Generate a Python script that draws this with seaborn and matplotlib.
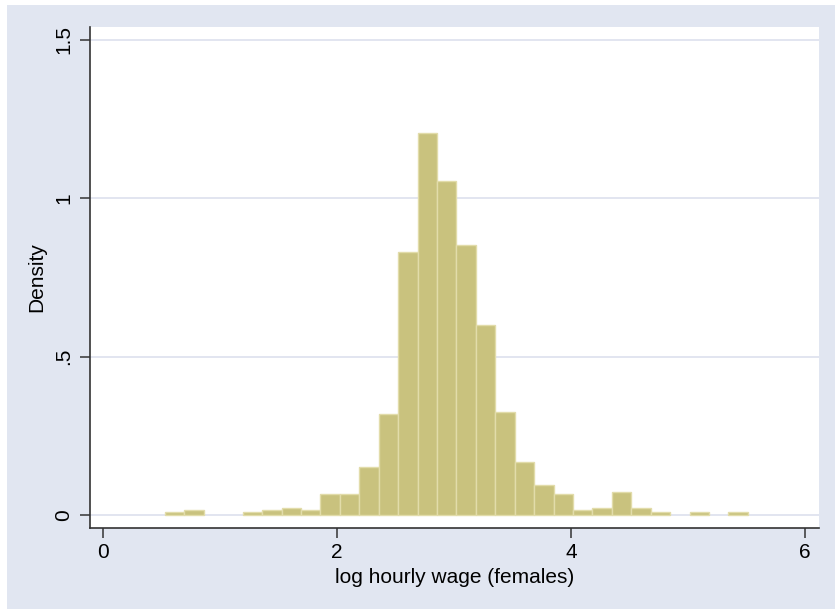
import numpy as np
import pandas as pd
import matplotlib
matplotlib.use("Agg")
import matplotlib.pyplot as plt
import seaborn as sns
from matplotlib.patches import Rectangle

# ---- data ----
bin_start = 0.528
bin_width = 0.1661
density = [0.008, 0.015, 0.0, 0.0, 0.008, 0.015, 0.022, 0.015, 0.065, 0.065,
           0.153, 0.319, 0.831, 1.207, 1.056, 0.854, 0.600, 0.326, 0.166, 0.094,
           0.065, 0.015, 0.022, 0.073, 0.022, 0.008, 0.0, 0.008, 0.0, 0.008]
x_ticks = [0, 2, 4, 6]
x_tick_labels = ["0", "2", "4", "6"]
y_ticks = [0, 0.5, 1, 1.5]
y_tick_labels = ["0", ".5", "1", "1.5"]
x_label = "log hourly wage (females)"
y_label = "Density"

n_bins = len(density)
edges = [float(bin_start + bin_width * i) for i in range(n_bins + 1)]
centers = [(edges[i] + edges[i + 1]) / 2 for i in range(n_bins)]
df = pd.DataFrame({"wage": centers, "density": density})

sns.set_theme(style="white")
plt.rcParams["font.family"] = ["Liberation Sans", "DejaVu Sans"]

W, H = 835, 609
fig = plt.figure(figsize=(W / 100, H / 100), dpi=100, facecolor="white")
# Stata-like graph region
fig.patches.append(Rectangle((7 / W, 0), 1 - 7 / W, (H - 5) / H,
                             transform=fig.transFigure, facecolor="#e1e6f1",
                             edgecolor="none", zorder=-10))

left, right, top, bottom = 90, 819, 27, 528
ax = fig.add_axes([left / W, 1 - bottom / H, (right - left) / W, (bottom - top) / H])
ax.set_facecolor("white")

sns.histplot(data=df, x="wage", weights="density", bins=edges, stat="count",
             color="#c9c27e", edgecolor="#e2dcaa", linewidth=1.0, alpha=1.0, ax=ax)
# empty bins leave no mark
for p in ax.patches:
    if p.get_height() <= 0:
        p.set_visible(False)

ax.set_xlim(-0.114, 6.12)
ax.set_ylim(-0.041, 1.541)
ax.set_xticks(x_ticks)
ax.set_xticklabels(x_tick_labels)
ax.set_yticks(y_ticks)
ax.set_yticklabels(y_tick_labels, rotation=90, va="center")

ax.yaxis.grid(True, color="#dfe3ef", linewidth=1.3)
ax.xaxis.grid(False)
ax.set_axisbelow(True)

for s in ["top", "right"]:
    ax.spines[s].set_visible(False)
for s in ["left", "bottom"]:
    ax.spines[s].set_visible(True)
    ax.spines[s].set_color("#333333")
    ax.spines[s].set_linewidth(1.2)

fs = 15
ax.tick_params(axis="both", which="major", direction="out", length=7,
               width=1.1, color="#333333", labelsize=fs, labelcolor="black",
               bottom=True, left=True)
ax.tick_params(axis="y", pad=5)
ax.tick_params(axis="x", pad=4)

ax.set_xlabel(x_label, fontsize=fs, color="black", labelpad=4)
ax.set_ylabel(y_label, fontsize=fs, color="black", labelpad=6)

fig.savefig("out.png", dpi=100, facecolor="white")
